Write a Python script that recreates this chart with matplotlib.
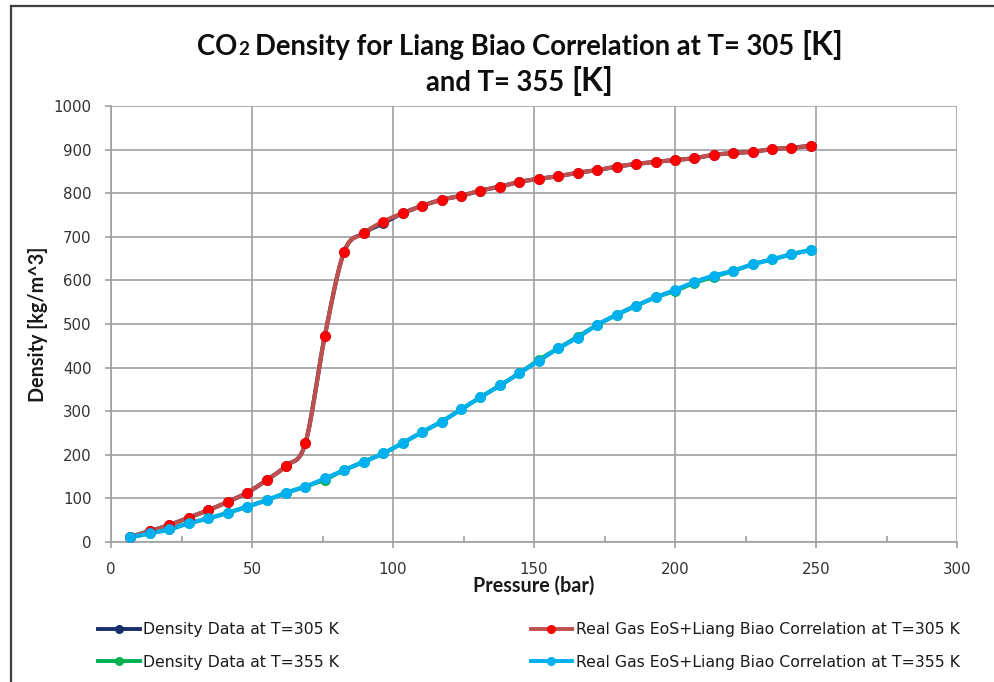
import numpy as np
import matplotlib
matplotlib.use("Agg")
import matplotlib.pyplot as plt
from matplotlib.lines import Line2D

# Pressure steps (bar)
pressure_bar = [6.9, 13.8, 20.7, 27.6, 34.5, 41.4, 48.3, 55.2, 62.1, 68.9,
                75.8, 82.7, 89.6, 96.5, 103.4, 110.3, 117.2, 124.1, 131.0, 137.9,
                144.8, 151.7, 158.6, 165.5, 172.4, 179.3, 186.2, 193.1, 200.0, 206.8,
                213.7, 220.6, 227.5, 234.4, 241.3, 248.2]

# Measured CO2 density (kg/m^3)
rho_data_305 = [12, 25, 39, 56, 73, 92, 113, 142, 175, 226,
                472, 666, 708, 731, 754, 771, 785, 794, 806, 815,
                826, 833, 839, 847, 853, 861, 867, 872, 876, 880,
                888, 892, 895, 901, 904, 909]
rho_data_355 = [11, 20, 29, 43, 54, 67, 81, 96, 113, 127,
                143, 165, 184, 203, 227, 252, 276, 304, 332, 359,
                387, 418, 444, 471, 498, 521, 542, 561, 576, 594,
                608, 622, 637, 648, 660, 670]

# Real gas EoS + Liang Biao correlation (kg/m^3)
rho_corr_305 = [12, 25, 39, 56, 73, 92, 113, 142, 175, 226,
                472, 666, 708, 735, 754, 771, 785, 794, 806, 815,
                826, 833, 839, 847, 853, 861, 867, 872, 876, 880,
                888, 892, 895, 901, 904, 909]
rho_corr_355 = [11, 20, 29, 43, 54, 67, 81, 96, 113, 127,
                146, 165, 184, 203, 227, 252, 276, 304, 332, 359,
                387, 416, 444, 469, 498, 521, 542, 561, 578, 596,
                611, 622, 637, 648, 660, 670]

x_ticks = [0, 50, 100, 150, 200, 250, 300]
y_ticks = [0, 100, 200, 300, 400, 500, 600, 700, 800, 900, 1000]

labels = ["Density Data at T=305 K",
          "Density Data at T=355 K",
          "Real Gas EoS+Liang Biao Correlation at T=305 K",
          "Real Gas EoS+Liang Biao Correlation at T=355 K"]


def smooth_curve(x, y, steps=24):
    """Bezier smoothing through every point (spreadsheet-style smoothed line)."""
    p = np.column_stack([np.asarray(x, float), np.asarray(y, float)])
    n = len(p)
    out = [p[0]]
    t = np.linspace(0, 1, steps)[1:, None]
    for i in range(n - 1):
        p0 = p[max(i - 1, 0)]
        p1 = p[i]
        p2 = p[i + 1]
        p3 = p[min(i + 2, n - 1)]
        c1 = p1 + (p2 - p0) / 6.0
        c2 = p2 - (p3 - p1) / 6.0
        seg = ((1 - t) ** 3) * p1 + 3 * ((1 - t) ** 2) * t * c1 \
            + 3 * (1 - t) * (t ** 2) * c2 + (t ** 3) * p2
        out.extend(seg)
    out = np.array(out)
    return out[:, 0], out[:, 1]


W, H = 994, 682
fig = plt.figure(figsize=(W / 100, H / 100), dpi=100)
fig.patch.set_facecolor("white")

ax = fig.add_axes([111 / W, 1 - 542 / H, 846 / W, 436 / H])
ax.set_xlim(0, 300)
ax.set_ylim(0, 1000)

# data series first, correlation series drawn on top
series = [
    (rho_data_305, "#17306B", "#17306B"),
    (rho_data_355, "#00B050", "#00B050"),
    (rho_corr_305, "#C0504D", "#FF0000"),
    (rho_corr_355, "#00B0F0", "#00B0F0"),
]
for rho, lc, mc in series:
    sx, sy = smooth_curve(pressure_bar, rho)
    ax.plot(sx, sy, color=lc, lw=3.0, solid_capstyle="round", zorder=3)
    ax.plot(pressure_bar, rho, linestyle="none", marker="o", ms=6.8,
            mfc=mc, mec=mc, zorder=4)

# grid and axes
grid_c = "#A0A0A0"
ax.set_xticks(x_ticks)
ax.set_yticks(y_ticks)
ax.set_xticks([25, 75, 125, 175, 225, 275], minor=True)
ax.grid(True, which="major", color=grid_c, lw=1.2, zorder=0)
for side in ("top", "right"):
    ax.spines[side].set_visible(False)
for side in ("left", "bottom"):
    ax.spines[side].set_color(grid_c)
    ax.spines[side].set_linewidth(1.2)
ax.tick_params(axis="both", which="major", colors=grid_c, width=1.2,
               labelcolor="#333333", labelsize=10.8)
ax.tick_params(axis="y", which="major", direction="out", length=4, pad=10)
ax.tick_params(axis="x", which="major", direction="out", length=4.5, pad=10)
ax.tick_params(axis="x", which="minor", direction="in", length=4, width=1.2,
               colors=grid_c)
for lab in ax.get_xticklabels() + ax.get_yticklabels():
    lab.set_family("DejaVu Sans")

label_font = dict(family=["Lato", "DejaVu Sans"], weight="bold", size=14.2,
                  color="#1A1A1A")
ax.set_xlabel("Pressure (bar)", **label_font)
ax.xaxis.set_label_coords(0.5, -0.077)
ax.set_ylabel("Density [kg/m^3]", **label_font)
ax.yaxis.set_label_coords(-0.0745, 0.5)

# legend: two columns, data series on the left, correlations on the right
handles = [Line2D([], [], color=lc, lw=2.8, marker="o", ms=5.5, mfc=mc, mec=mc)
           for _, lc, mc in series]
leg = fig.legend(handles, labels,
                 ncol=2, loc="upper left", bbox_to_anchor=(98 / W, 1 - 622 / H),
                 frameon=False, prop=dict(family="DejaVu Sans", size=11.3),
                 handlelength=2.67, handletextpad=0.2, columnspacing=12.2,
                 labelspacing=1.12, borderpad=0, borderaxespad=0)
for t in leg.get_texts():
    t.set_color("#1A1A1A")

# chart frame (top and left edges)
frame_c = "#404040"
fig.add_artist(Line2D([11 / W, 1.0], [1 - 6 / H, 1 - 6 / H], color=frame_c,
                      lw=1.6, transform=fig.transFigure))
fig.add_artist(Line2D([11 / W, 11 / W], [0, 1 - 6 / H], color=frame_c,
                      lw=1.6, transform=fig.transFigure))

# two-line title built from pieces of differing size
title_fam = ["Lato", "DejaVu Sans"]


def title_row(pieces, baseline_px, center_px):
    texts = []
    for s, size, gap, weight in pieces:
        t = fig.text(0, 1 - baseline_px / H, s, family=title_fam, size=size,
                     weight=weight, va="baseline", ha="left", color="#0D0D0D")
        texts.append((t, gap))
    fig.canvas.draw()
    r = fig.canvas.get_renderer()
    widths = [t.get_window_extent(r).width for t, _ in texts]
    total = sum(widths) + sum(g for _, g in texts)
    x = center_px - total / 2
    for (t, gap), w in zip(texts, widths):
        x += gap
        t.set_x(x / W)
        x += w


title_row([("CO", 19.8, 0, "bold"),
           ("2", 13.5, 1, "bold"),
           ("Density for Liang Biao Correlation at T= 305", 19.8, 6, "bold"),
           ("[K]", 23, 7, "bold")], 55, 520)
title_row([("and T= 355", 19.8, 0, "bold"),
           ("[K]", 23, 7, "bold")], 91, 520)

fig.savefig("out.png", dpi=100, facecolor="white")
